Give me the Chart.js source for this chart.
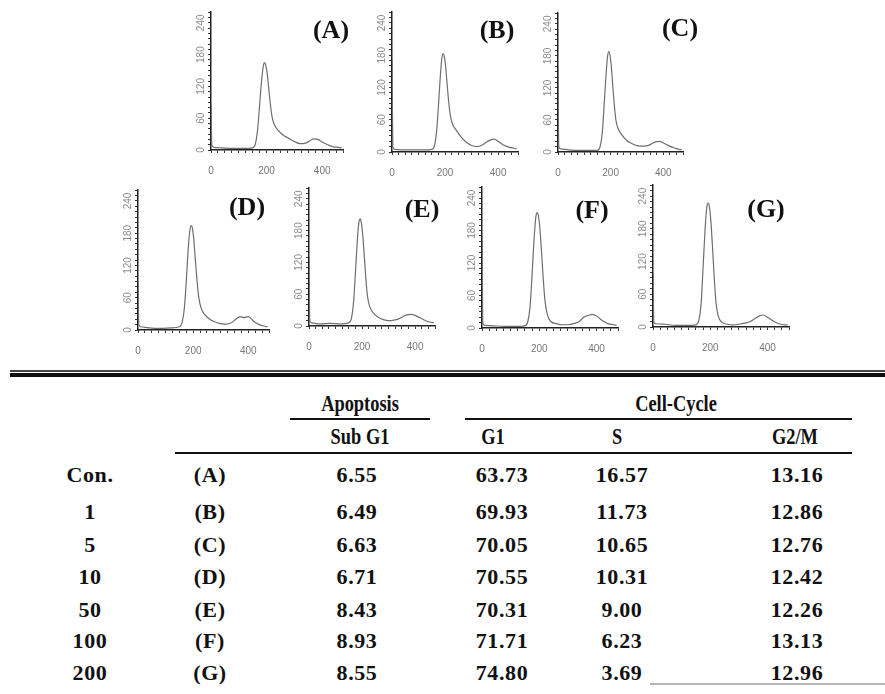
<!DOCTYPE html>
<html>
<head>
<meta charset="utf-8">
<script src="https://cdn.jsdelivr.net/npm/chart.js@4.4.1/dist/chart.umd.min.js"></script>
<style>
  body { margin: 0; background: #fff; }
  #page { position: relative; width: 885px; height: 694px; overflow: hidden; background: #fff; }
  canvas { position: absolute; }
  .lbl { position: absolute; font-family: 'Liberation Serif', serif; font-weight: bold; color: #111;
         transform: translate(-50%, -50%); white-space: nowrap; }
  .panel { font-size: 26px; }
  .cell { font-size: 22px; letter-spacing: 0.6px; }
  .head { font-size: 23px; transform: translate(-50%, -50%) scaleX(0.8); }
  .rule { position: absolute; background: #111; }
</style>
</head>
<body>
<div id="page"></div>
<script>
// DNA content channels (x) shared by all histograms
const channels = [0, 3, 10, 40, 80, 120, 150, 160, 168, 175, 182, 188, 193, 197, 202, 208, 214, 220, 228, 240, 260, 280, 300, 320, 340, 355, 370, 385, 400, 420, 440, 460, 470];

// cell counts
const countsA = [85, 10, 5, 4, 3, 3, 4, 12, 40, 85, 130, 158, 165, 160, 145, 115, 85, 62, 48, 38, 28, 22, 16, 12, 13, 17, 21, 20, 15, 10, 6, 5, 4];
const countsB = [170, 10, 5, 4, 4, 4, 5, 12, 38, 85, 140, 175, 183, 178, 160, 125, 92, 68, 52, 42, 28, 18, 12, 10, 13, 18, 22, 24, 20, 13, 9, 7, 6];
const countsC = [160, 10, 6, 4, 3, 3, 3, 10, 35, 85, 140, 178, 188, 183, 163, 125, 88, 60, 44, 34, 22, 16, 12, 11, 12, 15, 19, 20, 17, 12, 8, 5, 4];
const countsD = [90, 10, 6, 4, 3, 4, 6, 14, 40, 90, 150, 185, 194, 190, 170, 130, 92, 62, 42, 30, 20, 15, 12, 11, 14, 20, 25, 23, 25, 16, 10, 7, 6];
const countsE = [130, 10, 6, 4, 5, 4, 6, 15, 45, 100, 160, 195, 202, 196, 175, 135, 92, 58, 38, 26, 17, 12, 10, 11, 14, 18, 21, 22, 20, 15, 10, 7, 6];
const countsF = [170, 8, 5, 4, 3, 3, 4, 12, 40, 100, 165, 205, 213, 207, 185, 140, 90, 50, 25, 12, 8, 6, 6, 8, 12, 20, 23, 25, 22, 14, 8, 6, 5];
const countsG = [100, 8, 6, 5, 3, 3, 4, 12, 42, 110, 180, 220, 227, 220, 195, 145, 90, 45, 20, 9, 5, 4, 5, 7, 10, 15, 20, 22, 18, 11, 6, 4, 4];

const xTickLabels = [0, 200, 400];
const yTickLabels = [0, 60, 120, 180, 240];

// table
const concs = ['Con.', '1', '5', '10', '50', '100', '200'];
const groups = ['(A)', '(B)', '(C)', '(D)', '(E)', '(F)', '(G)'];
const subG1 = ['6.55', '6.49', '6.63', '6.71', '8.43', '8.93', '8.55'];
const g1 = ['63.73', '69.93', '70.05', '70.55', '70.31', '71.71', '74.80'];
const sPhase = ['16.57', '11.73', '10.65', '10.31', '9.00', '6.23', '3.69'];
const g2m = ['13.16', '12.86', '12.76', '12.42', '12.26', '13.13', '12.96'];

// where each small plot sits (axis origin, plot size, label centre)
const panels = [
  { name: '(A)', counts: countsA, ox: 211, oy: 150, w: 138, h: 139, lx: 331, ly: 30 },
  { name: '(B)', counts: countsB, ox: 392, oy: 152, w: 132, h: 141, lx: 497, ly: 30 },
  { name: '(C)', counts: countsC, ox: 558, oy: 152, w: 131, h: 140, lx: 680, ly: 28 },
  { name: '(D)', counts: countsD, ox: 138, oy: 330, w: 137, h: 141, lx: 247, ly: 207 },
  { name: '(E)', counts: countsE, ox: 309, oy: 326, w: 132, h: 139, lx: 422, ly: 209 },
  { name: '(F)', counts: countsF, ox: 482, oy: 328, w: 142, h: 142, lx: 592, ly: 210 },
  { name: '(G)', counts: countsG, ox: 653, oy: 327, w: 142, h: 143, lx: 766, ly: 209 },
];

const page = document.getElementById('page');
const LEFT = 30, TOP = 6, RIGHT = 6, BOTTOM = 30;

function addText(text, x, y, cls) {
  const d = document.createElement('div');
  d.className = 'lbl ' + cls;
  d.textContent = text;
  d.style.left = x + 'px';
  d.style.top = y + 'px';
  page.appendChild(d);
}

function addRule(x1, x2, y, thick, color) {
  const d = document.createElement('div');
  d.className = 'rule';
  d.style.left = x1 + 'px';
  d.style.top = y + 'px';
  d.style.width = (x2 - x1) + 'px';
  d.style.height = thick + 'px';
  if (color) d.style.background = color;
  page.appendChild(d);
}

// rotated y tick labels, like the scanned cytometer plots
const rotatedYLabels = {
  id: 'rotatedYLabels',
  afterDraw(chart) {
    const ctx = chart.ctx;
    const ys = chart.scales.y;
    ctx.save();
    ctx.fillStyle = '#8a8a8a';
    ctx.font = '10px "Liberation Sans Narrow", "Liberation Sans", sans-serif';
    ctx.textAlign = 'center';
    ctx.textBaseline = 'middle';
    yTickLabels.forEach(v => {
      const py = ys.getPixelForValue(v);
      ctx.save();
      ctx.translate(ys.right - 10, py);
      ctx.rotate(-Math.PI / 2);
      ctx.fillText(String(v), 0, 0);
      ctx.restore();
    });
    ctx.restore();
  }
};

panels.forEach(p => {
  const cv = document.createElement('canvas');
  const cw = LEFT + p.w + RIGHT, ch = TOP + p.h + BOTTOM;
  cv.width = cw;
  cv.height = ch;
  cv.style.left = (p.ox - LEFT) + 'px';
  cv.style.top = (p.oy - p.h - TOP) + 'px';
  page.appendChild(cv);

  new Chart(cv.getContext('2d'), {
    type: 'line',
    data: {
      datasets: [{
        data: channels.map((c, i) => ({ x: c, y: p.counts[i] })),
        borderColor: '#6e6e6e',
        borderWidth: 1.2,
        pointRadius: 0,
        cubicInterpolationMode: 'monotone',
        fill: false,
      }]
    },
    plugins: [rotatedYLabels],
    options: {
      responsive: false,
      animation: false,
      devicePixelRatio: 1,
      layout: { padding: { top: TOP, right: RIGHT, left: 0, bottom: 0 } },
      plugins: { legend: { display: false }, tooltip: { enabled: false } },
      scales: {
        x: {
          type: 'linear', min: 0, max: 475,
          afterFit: s => { s.height = BOTTOM; },
          border: { display: true, color: '#222', width: 1.5 },
          grid: { drawOnChartArea: false, drawTicks: true, tickLength: 3, color: '#333' },
          ticks: {
            stepSize: 25, autoSkip: false, maxRotation: 0, padding: 12,
            color: '#777',
            font: { size: 10, family: '"Liberation Sans Narrow", "Liberation Sans", sans-serif' },
            callback: v => xTickLabels.includes(v) ? String(v) : ''
          }
        },
        y: {
          min: 0, max: 260,
          afterFit: s => { s.width = LEFT; },
          border: { display: true, color: '#222', width: 1.5 },
          grid: { drawOnChartArea: false, drawTicks: true, tickLength: 3, color: '#333' },
          ticks: { stepSize: 10, autoSkip: false, padding: 0, callback: () => '' }
        }
      }
    }
  });

  addText(p.name, p.lx, p.ly, 'panel');
});

// ---- table ----
addRule(10, 885, 370, 2, '#444');
addRule(10, 885, 373, 4, '#0d0d0d');

addText('Apoptosis', 360, 404, 'head');
addText('Cell-Cycle', 676, 404, 'head');
addRule(290, 430, 418, 2);
addRule(465, 852, 418, 2);

addText('Sub G1', 360, 437, 'head');
addText('G1', 493, 437, 'head');
addText('S', 617, 437, 'head');
addText('G2/M', 795, 437, 'head');
addRule(175, 852, 452, 2);

const rowY = [475, 512, 545, 577, 610, 641, 673];
const colX = [90, 210, 357, 502, 622, 797];
rowY.forEach((y, i) => {
  addText(concs[i], colX[0], y, 'cell');
  addText(groups[i], colX[1], y, 'cell');
  addText(subG1[i], colX[2], y, 'cell');
  addText(g1[i], colX[3], y, 'cell');
  addText(sPhase[i], colX[4], y, 'cell');
  addText(g2m[i], colX[5], y, 'cell');
});

addRule(650, 885, 683, 2, '#b5b5b5');
</script>
</body>
</html>
